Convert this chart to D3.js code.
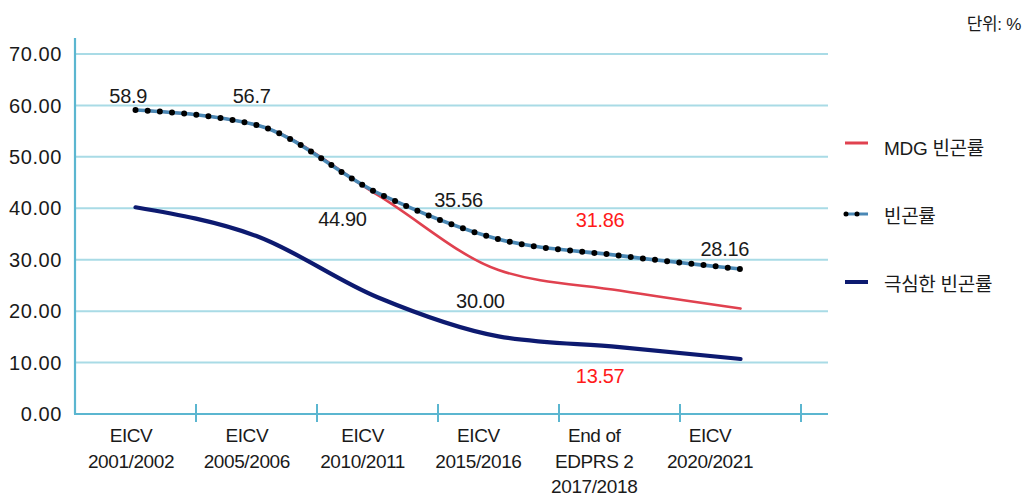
<!DOCTYPE html>
<html>
<head>
<meta charset="utf-8">
<script src="https://cdn.jsdelivr.net/npm/d3@7"></script>
<style>
  html, body { margin: 0; padding: 0; background: #ffffff; }
  svg { display: block; }
  text { font-family: "Liberation Sans", "Noto Sans CJK KR", sans-serif; fill: #1a1a1a; }
</style>
</head>
<body>
<svg id="chart" width="1027" height="497"></svg>
<script>
// ---------- data ----------
const categories = ["c0", "c1", "c2", "c3", "c4", "c5"];
const categoryLabels = [
  ["EICV", "2001/2002"],
  ["EICV", "2005/2006"],
  ["EICV", "2010/2011"],
  ["EICV", "2015/2016"],
  ["End of", "EDPRS 2", "2017/2018"],
  ["EICV", "2020/2021"]
];
const mdgPoverty     = [59.1, 56.2, 42.6, 28.0, 24.0, 20.5];
const poverty        = [59.1, 56.2, 43.0, 34.0, 30.8, 28.2];
const extremePoverty = [40.2, 34.6, 22.7, 15.1, 13.0, 10.7];
const yTicks = [0, 10, 20, 30, 40, 50, 60, 70];
const seriesNames = ["MDG 빈곤률", "빈곤률", "극심한 빈곤률"];
const unitLabel = "단위: %";

// value annotations (text, fractional category position, vertical value position)
const annotationTexts  = ["58.9", "56.7", "44.90", "35.56", "31.86", "28.16", "30.00", "13.57"];
const annotationAt     = [-0.06, 0.96, 1.71, 2.67, 3.84, 4.87, 2.85, 3.84];
const annotationV      = [61.8, 61.8, 38.0, 41.7, 37.7, 32.2, 22.1, 7.5];
const annotationRed    = [false, false, false, false, true, false, false, true];

// ---------- layout ----------
const svg = d3.select("#chart");
const plotLeft = 75, plotRight = 828, plotTop = 38;

const y = d3.scaleLinear().domain([0, 70]).range([414, 54]);
const x = d3.scaleBand().domain(categories).range([75, 801]).padding(0);
const xc = c => x(c) + x.bandwidth() / 2;
const xFrac = d3.scaleLinear().domain([0, 1]).range([xc("c0"), xc("c1")]);
const xLabel = d3.scalePoint().domain(categories).range([131, 710]);

const gridColor = "#a9dbe6";
const axisColor = "#5bb6d0";

// gridlines
svg.append("g").selectAll("line")
  .data(yTicks.filter(t => t > 0))
  .join("line")
  .attr("x1", plotLeft).attr("x2", plotRight)
  .attr("y1", d => y(d)).attr("y2", d => y(d))
  .attr("stroke", gridColor).attr("stroke-width", 2);

// y axis labels
svg.append("g").selectAll("text")
  .data(yTicks)
  .join("text")
  .attr("x", 62).attr("y", d => y(d))
  .attr("dy", "0.36em")
  .attr("text-anchor", "end")
  .attr("font-size", 20)
  .attr("letter-spacing", 0.6)
  .text(d => d3.format(".2f")(d));

// axis lines
svg.append("line")
  .attr("x1", plotLeft).attr("x2", plotLeft)
  .attr("y1", plotTop).attr("y2", y(0))
  .attr("stroke", axisColor).attr("stroke-width", 2.2);
svg.append("line")
  .attr("x1", plotLeft - 1).attr("x2", plotRight)
  .attr("y1", y(0)).attr("y2", y(0))
  .attr("stroke", axisColor).attr("stroke-width", 2.2);

// x tick marks at band boundaries
svg.append("g").selectAll("line")
  .data(categories)
  .join("line")
  .attr("x1", d => x(d) + x.bandwidth()).attr("x2", d => x(d) + x.bandwidth())
  .attr("y1", y(0) - 10).attr("y2", y(0) + 8)
  .attr("stroke", axisColor).attr("stroke-width", 2);

// x labels
const xl = svg.append("g").selectAll("text")
  .data(categories)
  .join("text")
  .attr("text-anchor", "middle")
  .attr("font-size", 19)
  .attr("letter-spacing", -0.4);
xl.each(function(c, i) {
  d3.select(this).selectAll("tspan")
    .data(categoryLabels[i])
    .join("tspan")
    .attr("x", xLabel(c))
    .attr("y", (d, j) => 442 + j * 25.5)
    .text(d => d);
});

// lines
const line = vals => d3.line()
  .x((d, i) => xc(categories[i]))
  .y(d => y(d))
  .curve(d3.curveMonotoneX)(vals);

svg.append("path").attr("d", line(mdgPoverty))
  .attr("fill", "none").attr("stroke", "#e0414f").attr("stroke-width", 2.6)
  .attr("stroke-linecap", "round");

svg.append("path").attr("d", line(extremePoverty))
  .attr("fill", "none").attr("stroke", "#0d1a70").attr("stroke-width", 4.2)
  .attr("stroke-linecap", "round");

svg.append("path").attr("d", line(poverty))
  .attr("fill", "none").attr("stroke", "#4a88b5").attr("stroke-width", 3.6)
  .attr("stroke-linecap", "round");
svg.append("path").attr("d", line(poverty))
  .attr("fill", "none").attr("stroke", "#000").attr("stroke-width", 6)
  .attr("stroke-linecap", "round").attr("stroke-dasharray", "0 12.2");

// annotations
svg.append("g").selectAll("text")
  .data(annotationTexts)
  .join("text")
  .attr("x", (d, i) => xFrac(annotationAt[i]))
  .attr("y", (d, i) => y(annotationV[i]))
  .attr("dy", "0.36em")
  .attr("text-anchor", "middle")
  .attr("font-size", 20)
  .attr("letter-spacing", -0.3)
  .style("fill", (d, i) => annotationRed[i] ? "#ff1a1a" : "#1a1a1a")
  .text(d => d);

// legend
const legendY = d3.scalePoint().domain(seriesNames).range([146, 282]);
const lg = svg.append("g");
lg.append("line")
  .attr("x1", 845).attr("x2", 868)
  .attr("y1", legendY(seriesNames[0]) - 3).attr("y2", legendY(seriesNames[0]) - 3)
  .attr("stroke", "#e0414f").attr("stroke-width", 3);
lg.append("line")
  .attr("x1", 845).attr("x2", 868)
  .attr("y1", legendY(seriesNames[1])).attr("y2", legendY(seriesNames[1]))
  .attr("stroke", "#4a88b5").attr("stroke-width", 3);
lg.append("line")
  .attr("x1", 846).attr("x2", 868)
  .attr("y1", legendY(seriesNames[1])).attr("y2", legendY(seriesNames[1]))
  .attr("stroke", "#000").attr("stroke-width", 5).attr("stroke-linecap", "round")
  .attr("stroke-dasharray", "0 11");
lg.append("line")
  .attr("x1", 845).attr("x2", 868)
  .attr("y1", legendY(seriesNames[2])).attr("y2", legendY(seriesNames[2]))
  .attr("stroke", "#0d1a70").attr("stroke-width", 4);
lg.selectAll("text")
  .data(seriesNames)
  .join("text")
  .attr("x", 884).attr("y", d => legendY(d) + 2)
  .attr("dy", "0.36em")
  .attr("font-size", 19)
  .attr("letter-spacing", -0.3)
  .text(d => d);

// unit label
svg.append("text")
  .attr("x", 1021).attr("y", 24)
  .attr("dy", "0.36em")
  .attr("text-anchor", "end")
  .attr("font-size", 17)
  .attr("letter-spacing", -0.3)
  .text(unitLabel);
</script>
</body>
</html>
